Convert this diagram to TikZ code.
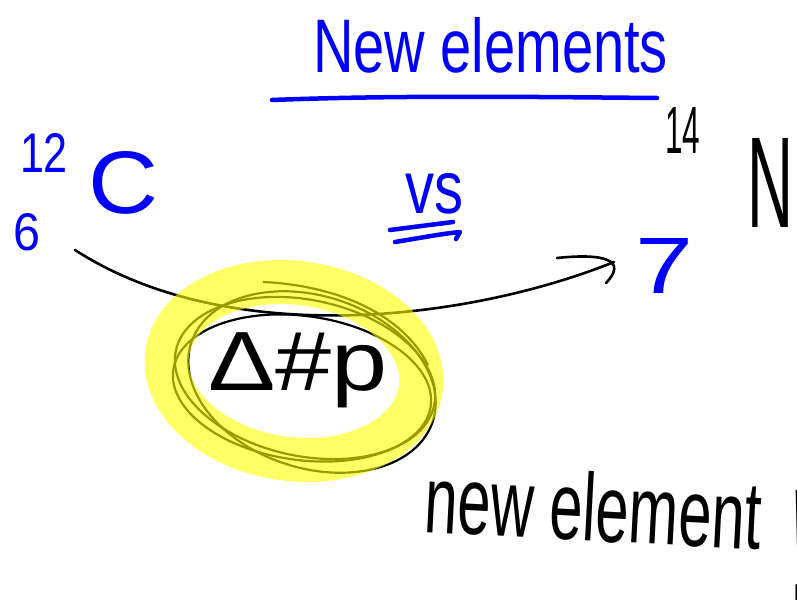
\documentclass[tikz,border=0pt]{standalone}
\usepackage{fontspec}
\setmainfont{Liberation Sans}
\usepackage{graphicx}
\usetikzlibrary{arrows.meta}
\definecolor{penblue}{RGB}{0,0,250}
\definecolor{hilite}{RGB}{255,255,0}
\tikzset{
  txt/.style={inner sep=0pt, outer sep=0pt, anchor=base west},
  bluetxt/.style={txt, text=penblue},
  blacktxt/.style={txt, text=black},
  blueink/.style={draw=penblue, line width=4.5pt, line cap=round, line join=round},
  blackink/.style={draw=black, line width=2.6pt, line cap=round, line join=round},
  loopink/.style={draw=black, line width=2.2pt},
  marker/.style={draw=hilite, draw opacity=0.6, line width=44pt},
}
\begin{document}
\begin{tikzpicture}[x=1pt,y=-1pt]
\useasboundingbox (0,0) rectangle (797,602);
\fill[white] (0,0) rectangle (797,602);

% title
\node[bluetxt] (title) at (313,72) {\resizebox{355pt}{55pt}{New elements}};
\coordinate (ulA) at (272,100);
\coordinate (ulB) at (657,98);
\draw[blueink] (ulA) .. controls (400,95) and (540,97) .. (ulB);

% carbon
\node[bluetxt] (massC) at (20,172) {\resizebox{48pt}{39pt}{12}};
\node[bluetxt] (numC) at (13,250) {\resizebox{27pt}{37pt}{6}};
\node[bluetxt] (symC) at (88,213) {\resizebox{70pt}{62pt}{C}};

% vs
\node[bluetxt] (vs) at (405,213) {\resizebox{58pt}{40pt}{vs}};
\coordinate (vsA1) at (390,230);
\coordinate (vsB1) at (453,222);
\coordinate (vsA2) at (395,242);
\coordinate (vsB2) at (460,232);
\draw[blueink] (vsA1) -- (vsB1);
\draw[blueink] (vsA2) .. controls (420,238) and (440,234) .. (vsB2) -- (456,239);

% nitrogen
\node[blacktxt] (massN) at (665,153) {\resizebox{35pt}{46pt}{14}};
\node[blacktxt] (symN) at (747,227) {\resizebox{46pt}{89pt}{N}};
\node[bluetxt] (numN) at (635,293) {\resizebox{58pt}{55pt}{7}};

% arrow
\coordinate (arrS) at (75,250);
\coordinate (arrE) at (614,262);
\draw[blackink] (arrS) .. controls (230,350) and (470,320) .. (arrE);
\draw[blackink] ([shift={(-57,-4)}]arrE) .. controls ([shift={(-10,-9)}]arrE) and ([shift={(14,-2)}]arrE) .. ([shift={(-8,21)}]arrE);

% loops
\draw[loopink, rotate around={-12:(305,378)}] (305,378) ellipse [x radius=132, y radius=78];
\draw[loopink, rotate around={-8:(302,388)}] (302,388) ellipse [x radius=130, y radius=72];
\draw[loopink, rotate around={-18:(312,382)}] (312,382) ellipse [x radius=127, y radius=86];
\draw[loopink] (263,282) .. controls (330,285) and (400,310) .. (428,365);

% highlighter
\draw[marker, rotate around={-8:(294,371)}] (294,371) ellipse [x radius=128, y radius=88];

% delta # p
\node[blacktxt] (dnp) at (208,390) {\scalebox{1.2}[1]{\fontsize{84pt}{84pt}\selectfont Δ\#p}};

% new element
\node[blacktxt, rotate=-3] (newel) at (423,532) {\scalebox{0.62}[1]{\fontsize{96pt}{96pt}\selectfont new element}};
\node[blacktxt] (bang) at (781,600) {\fontsize{160pt}{160pt}\selectfont !};
\end{tikzpicture}
\end{document}
